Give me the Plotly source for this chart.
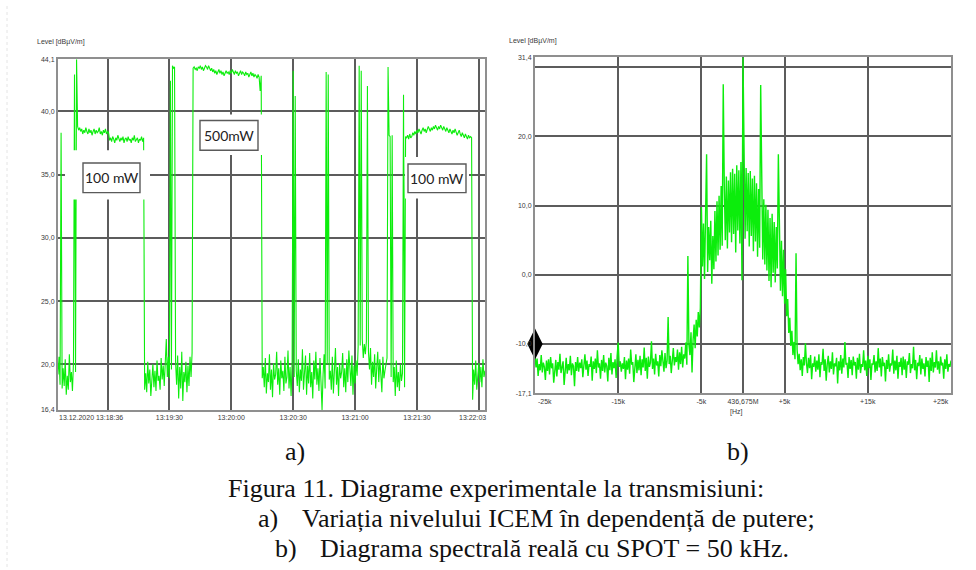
import pandas as pd
import plotly.graph_objects as go

W, H = 976, 570

# ---------------- (a) field level vs. time, one sample every 0.5 s ----------------
start_time = "2020-12-13 13:18:36"
end_time = "2020-12-13 13:22:03"

lvl_start = [19.2, 20.6, 18.4, 38.3, 18.1, 19.7, 18.3, 20.4, 17.6, 19.1, 18.0, 20.8,
             18.6, 19.4, 17.9, 20.1, 42.9, 19.4, 44.1, 38.8]
lvl_100mw_a = [38.5, 38.7, 38.4, 38.6, 38.2, 38.5, 38.3, 38.7, 38.4, 38.2, 38.6, 38.3,
               38.5, 38.1, 38.4, 38.6, 38.2, 38.5, 38.3, 38.4, 38.7, 38.2, 38.4, 38.1,
               38.5, 38.3, 38.6, 38.2, 38.4, 38.3,
               37.7, 37.9, 37.6, 38.0, 37.8, 37.5, 37.9, 37.7, 38.1, 37.8, 37.6, 37.9,
               37.7, 38.0, 37.5, 37.8, 37.9, 37.6, 38.0, 37.7, 37.8, 37.5, 37.9, 37.7,
               38.1, 37.6, 37.8, 37.9, 37.5, 37.8, 37.7, 38.0, 37.6, 37.9]
lvl_gap_1 = [18.0,
             19.3, 17.8, 20.2, 18.5, 19.6, 17.5, 18.9, 20.0, 18.2, 19.5, 17.9, 20.3,
             18.7, 19.1, 18.0, 20.5, 18.8, 19.9, 18.3, 20.4, 22.0, 19.0, 20.6, 18.9,
             42.4, 19.6, 43.6, 43.4, 43.5, 20.2,
             18.4, 20.7, 17.3, 19.8, 18.1, 21.0, 17.1, 19.4, 18.6, 20.2, 17.8, 19.9,
             18.3, 20.6, 19.0, 20.9,
             43.4]
lvl_500mw = [43.5, 43.3, 43.4, 43.2, 43.5, 43.4, 43.6, 43.3, 43.5, 43.2, 43.4, 43.6,
             43.5, 43.3, 43.6, 43.4, 43.2, 43.4, 43.1, 43.3, 43.0, 43.2, 42.9, 43.1,
             43.3, 43.0, 43.2, 42.9, 43.1, 42.8, 43.0, 43.2, 43.0, 43.1, 42.9, 43.2,
             43.0, 43.3, 43.1, 42.9, 43.2, 43.0, 43.1, 42.8, 43.0, 43.2, 42.9, 43.1,
             43.0, 42.8, 43.1, 42.9, 43.0, 42.7, 42.9, 43.1, 42.8, 43.0, 42.7, 42.9,
             42.8, 42.6, 42.9, 42.7]
lvl_gap_2 = [41.6, 42.8, 18.9,
             19.8, 18.2, 20.5, 17.7, 19.3, 18.6, 20.8, 18.0, 19.6, 17.4, 20.1, 18.8,
             19.2, 21.0, 18.4, 19.7, 17.6, 20.3, 18.9, 19.5, 17.9, 20.6, 18.5, 19.0,
             21.1, 18.1, 19.8, 17.5, 20.2,
             43.2, 19.0, 41.2, 19.5,
             18.3, 20.4, 17.8, 19.6, 18.7, 21.2, 18.0, 19.3, 20.7, 17.6, 19.9, 18.5,
             20.9, 18.2, 19.4, 17.3, 20.3, 18.8, 21.0, 18.4, 19.7, 17.9, 20.5, 18.6,
             16.4, 19.2, 20.8, 18.1,
             43.1, 20.0, 42.9, 18.8,
             19.5, 18.0, 20.6, 17.7, 19.2, 21.3, 18.4, 19.8, 17.5, 20.1, 18.9, 19.4,
             20.9, 18.2, 19.7, 17.8, 20.4, 18.6, 21.1, 19.0, 18.3, 20.7, 17.6, 19.9,
             18.5, 20.3, 19.1, 21.4,
             43.6, 21.5, 43.2, 22.0, 20.5, 21.6, 20.8, 21.8, 42.0, 21.0,
             19.6, 21.3, 18.4, 20.2, 19.0, 20.8, 18.1, 19.7, 21.0, 18.6, 20.4, 19.2,
             17.8, 20.6, 18.9, 19.5, 20.1,
             20.5, 43.5, 38.1, 38.0, 19.0, 38.1, 18.6,
             19.8, 17.5, 20.3, 18.2, 19.4, 17.9, 20.0, 18.7, 19.3,
             41.3, 18.2, 38.0]
lvl_100mw_b = [37.9, 38.1, 37.8, 38.2, 37.9, 38.0, 38.3, 38.1, 38.4, 38.2, 38.5, 38.3,
               38.6, 38.4, 38.2, 38.5, 38.7, 38.4, 38.6, 38.3, 38.5, 38.8, 38.6, 38.4,
               38.7, 38.5, 38.8, 38.6, 38.9, 38.7, 38.5, 38.8, 38.6, 38.9, 38.7, 38.5,
               38.8, 38.6, 38.4, 38.7, 38.5, 38.3, 38.6, 38.4, 38.2, 38.5, 38.3, 38.6,
               38.4, 38.1, 38.3, 38.5, 38.2, 38.0, 38.3, 38.1, 37.9, 38.2, 38.0, 37.8,
               38.1, 37.9, 38.0]
lvl_end = [37.9, 17.2,
           19.6, 18.4, 20.3, 18.0, 19.2, 20.1, 18.6, 19.8, 18.2, 20.4, 19.0, 19.5]

level_a = lvl_start + lvl_100mw_a + lvl_gap_1 + lvl_500mw + lvl_gap_2 + lvl_100mw_b + lvl_end
assert len(level_a) == 415, len(level_a)
time_a = pd.date_range(start_time, periods=len(level_a), freq="500ms")

time_ticks = ["2020-12-13 13:19:00", "2020-12-13 13:19:30", "2020-12-13 13:20:00",
              "2020-12-13 13:20:30", "2020-12-13 13:21:00", "2020-12-13 13:21:30",
              "2020-12-13 13:22:00"]
time_labels = ["", "13:19:30", "13:20:00", "13:20:30", "13:21:00", "13:21:30", ""]
level_ticks_a = [16.4, 20, 25, 30, 35, 40, 44.1]
level_labels_a = ["16,4", "20,0", "25,0", "30,0", "35,0", "40,0", "44,1"]

# ---------------- (b) spectrum around 436,675 MHz, 0.125 kHz bins ----------------
floor_lo = [-11.8, -13.4, -12.1, -14.6, -12.9, -13.8, -11.6, -14.1, -12.7, -13.3, -15.2, -12.4,
            -13.9, -12.2, -14.4, -11.9, -13.5,
            -12.8, -15.6, -13.1, -12.3, -14.7, -12.6, -13.7, -11.4, -14.2, -13.0, -12.5, -15.9,
            -13.6, -12.0, -14.3, -12.9, -13.8,
            -11.7, -14.5, -12.8, -13.2, -16.1, -12.6, -13.9, -11.9, -14.0, -12.7, -13.5, -12.2,
            -14.8, -13.1, -11.5, -13.7, -12.4,
            -14.6, -12.9, -13.3, -11.8, -15.3, -12.5, -13.6, -12.1, -14.2, -10.9, -13.4, -12.8,
            -15.0, -12.3, -13.9, -11.6, -14.1,
            -12.7, -13.2, -15.4, -12.0, -13.8, -11.3, -14.4, -12.6, -13.5, -12.2, -14.9, -11.7,
            -9.8, -13.3, -12.5, -14.0, -12.8,
            -13.6, -11.9, -15.1, -12.4, -13.7, -12.1, -14.3, -10.8, -13.0, -12.6, -15.5, -12.9,
            -11.5, -14.2, -12.3, -13.8, -11.7,
            -14.5, -12.2, -13.4, -10.5, -13.9, -12.0, -15.0, -11.8, -13.3, -12.7, -9.6, -13.6,
            -12.1, -14.4, -11.4, -13.1, -12.5,
            -14.7, -11.6, -13.2, -10.9, -12.8, -14.0, -11.3, -13.5, -12.4, -6.1, -12.9, -11.7,
            -14.2, -12.0, -10.6, -13.1, -11.9]
skirt_lo = [-12.6, -10.8, -13.7, -11.2, -12.9, -10.4, -13.4, -11.5, -12.1, -9.8, -13.0, 2.7,
            -10.1, -11.6, -8.3, -14.1, -9.4, -7.2, -10.6, -6.5, -8.9, -5.4, -7.6, -4.8]
carrier_band = [9.8, 1.2, 7.4, -0.6, 8.6, 17.4, 0.4, 6.9, 2.1, 7.8, -1.3, 5.6,
                0.8, 9.2, 1.9, 10.6, 2.8, 11.4, 3.6, 12.8, 4.2,
                27.5,
                13.1, 5.0, 14.2, 3.8, 13.6, 6.1, 14.8, 4.7, 15.3, 5.9, 14.6, 3.2,
                15.8, 6.4, 15.1, 4.5, 16.3, -0.8,
                31.4,
                15.9, 5.2, 15.4, 6.3, 14.7, 4.1, 15.0, 5.6, 13.9, 3.4, 14.3, 4.8,
                13.2, 2.6, 12.4, 3.9,
                27.4,
                11.8, 2.2, 10.9, 1.5, 10.1, 0.6, 9.4, -0.9, 8.2, -1.8, 8.8, 0.3,
                7.6, -1.1, 6.9, 0.9,
                17.4,
                5.8, -2.3, 4.9, -3.1, 3.6]
skirt_hi = [-4.2, 0.8, -6.0, -3.5, -8.4, -6.2, -10.3, -8.1, -11.6, -9.7, -12.2, 3.1, -10.8]
floor_hi = [-12.9, -11.4, -13.8, -12.2, -14.6, -11.9, -13.1, -9.9, -12.7, -14.2, -12.0, -13.5,
            -11.6, -15.1, -12.8, -13.3, -11.8,
            -14.0, -12.4, -13.7, -11.5, -14.8, -12.6, -13.0, -10.7, -13.9, -12.2, -15.3, -12.9,
            -11.7, -14.1, -12.5, -13.6, -11.2,
            -14.4, -12.8, -13.2, -12.0, -15.7, -12.5, -13.8, -11.6, -14.3, -12.1, -13.4, -9.7,
            -13.0, -12.7, -14.9, -11.9, -13.6,
            -12.3, -14.5, -11.8, -13.1, -12.6, -15.0, -12.0, -13.7, -11.4, -14.2, -12.9, -13.3,
            -10.9, -13.8, -12.4, -14.6, -11.7,
            -13.5, -12.2, -15.2, -12.8, -13.0, -11.6, -14.1, -12.5, -13.9, -10.6, -13.4, -12.1,
            -14.7, -11.9, -13.2, -12.7, -15.4,
            -12.3, -13.6, -11.5, -14.0, -12.8, -13.1, -10.8, -14.3, -12.4, -13.8, -11.7, -15.0,
            -12.6, -13.3, -12.0, -14.5, -11.8,
            -13.7, -12.2, -14.9, -12.5, -13.0, -11.3, -14.2, -12.9, -13.5, -10.4, -13.8, -12.3,
            -15.1, -12.7, -13.2, -11.6, -14.4,
            -12.1, -13.6, -12.8, -14.7, -11.9, -13.3, -12.4, -15.5, -12.0, -13.9, -11.2, -14.1,
            -12.6, -13.4, -10.9, -13.7, -12.5,
            -14.3, -11.8, -13.1, -12.7, -15.0, -12.2, -13.6, -11.5, -14.0, -12.9, -13.3, -12.4]

level_b = floor_lo + skirt_lo + carrier_band + skirt_hi + floor_hi
assert len(level_b) == 401, len(level_b)
bin_khz = 0.125
offset_khz = [-25 + bin_khz * k for k in range(len(level_b))]

freq_ticks = [-15, -5, 0, 5, 15]
freq_labels = ["-15k", "-5k", "436,675M", "+5k", "+15k"]
level_ticks_b = [-17.1, -10, 0, 10, 20, 30, 31.4]
level_labels_b = ["-17,1", "-10,0", "0,0", "10,0", "20,0", "", "31,4"]
ref_level_b = -10.0

# ---------------- styling ----------------
GREEN = "#0ced0c"
GRID = "#5c5c5c"
FRAME = "#8f8f8f"
TICK_FONT = dict(family="Liberation Sans, Arial, sans-serif", size=7, color="#3a3a3a")


def px(x):
    return x / W


def py(y):
    return 1 - y / H


fig = go.Figure()
fig.add_trace(go.Scatter(x=time_a, y=level_a, mode="lines",
                         line=dict(color=GREEN, width=1.1), xaxis="x", yaxis="y",
                         hoverinfo="skip", showlegend=False))
fig.add_trace(go.Scatter(x=offset_khz, y=level_b, mode="lines",
                         line=dict(color=GREEN, width=1.4), xaxis="x2", yaxis="y2",
                         hoverinfo="skip", showlegend=False))
fig.add_trace(go.Scatter(x=[-25], y=[ref_level_b], mode="markers",
                         marker=dict(symbol="diamond-tall", size=22, color="black"),
                         xaxis="x2", yaxis="y2", cliponaxis=False,
                         hoverinfo="skip", showlegend=False))

axis_common = dict(showgrid=True, gridcolor=GRID, gridwidth=1.6, zeroline=False,
                   showline=True, linecolor=FRAME, linewidth=2, mirror=True,
                   ticks="", tickfont=TICK_FONT, fixedrange=True)

fig.update_layout(
    width=W, height=H, margin=dict(l=0, r=0, t=0, b=0),
    paper_bgcolor="white", plot_bgcolor="white",
    xaxis=dict(axis_common, type="date", domain=[px(58), px(485)],
               range=[start_time, end_time], tickmode="array",
               tickvals=time_ticks, ticktext=time_labels, anchor="y"),
    yaxis=dict(axis_common, domain=[py(411), py(56)], range=[16.4, 44.1],
               tickmode="array", tickvals=level_ticks_a, ticktext=level_labels_a,
               anchor="x"),
    xaxis2=dict(axis_common, domain=[px(535), px(951)], range=[-25, 25],
                tickmode="array", tickvals=freq_ticks, ticktext=freq_labels,
                anchor="y2"),
    yaxis2=dict(axis_common, domain=[py(394), py(54)], range=[-17.1, 31.4],
                tickmode="array", tickvals=level_ticks_b, ticktext=level_labels_b,
                anchor="x2"),
)

shapes = []
# power labels sit in white boxes that mask the grid and trace behind them
boxes = [
    ("100 mW", (65, 148, 150, 198), (83, 161, 140, 191)),
    ("500mW", (196, 112, 262, 153), (200, 118, 258, 148)),
    ("100 mW", (405, 155, 469, 197), (408, 162, 466, 191)),
]
annotations = []
for text, (mx0, my0, mx1, my1), (bx0, by0, bx1, by1) in boxes:
    shapes.append(dict(type="rect", xref="paper", yref="paper", layer="above",
                       x0=px(mx0), x1=px(mx1), y0=py(my1), y1=py(my0),
                       fillcolor="white", line=dict(width=0)))
    shapes.append(dict(type="rect", xref="paper", yref="paper", layer="above",
                       x0=px(bx0), x1=px(bx1), y0=py(by1), y1=py(by0),
                       fillcolor="white", line=dict(color="#5a5a5a", width=1.4)))
    annotations.append(dict(text=text, xref="paper", yref="paper", showarrow=False,
                            x=px((bx0 + bx1) / 2), y=py((by0 + by1) / 2),
                            xanchor="center", yanchor="middle",
                            font=dict(family="Lato, Open Sans, sans-serif", size=14,
                                      color="#222222")))

# faint page edge on the left
shapes.append(dict(type="line", xref="paper", yref="paper", x0=px(7), x1=px(7),
                   y0=0, y1=1, line=dict(color="#e4e4e4", width=1, dash="dot")))


def note(text, x, y, anchor="center", size=7, family="Liberation Sans, Arial, sans-serif",
         color="#3a3a3a"):
    annotations.append(dict(text=text, xref="paper", yref="paper", showarrow=False,
                            x=px(x), y=py(y), xanchor=anchor, yanchor="middle",
                            font=dict(family=family, size=size, color=color)))


note("Level [dBµV/m]", 35, 38, "left")
note("Level [dBµV/m]", 507, 37, "left")
note("13.12.2020 13:18:36", 57, 419, "left")
note("13:22:03", 488, 419, "right")
note("-25k", 536, 402, "left")
note("+25k", 951, 402, "right")
note("[Hz]", 736, 413)

SERIF = "Liberation Serif, Times New Roman, serif"
CAP = 26
note("a)", 295, 453, "center", CAP, SERIF, "#111111")
note("b)", 738, 453, "center", CAP, SERIF, "#111111")
note("Figura 11. Diagrame experimentale la transmisiuni:", 496, 491, "center", CAP, SERIF, "#111111")
note("a)", 256, 521, "left", CAP, SERIF, "#111111")
note("Variația nivelului ICEM în dependență de putere;", 300, 521, "left", CAP, SERIF, "#111111")
note("b)", 273, 551, "left", CAP, SERIF, "#111111")
note("Diagrama spectrală reală cu SPOT = 50 kHz.", 318, 551, "left", CAP, SERIF, "#111111")

fig.update_layout(shapes=shapes, annotations=annotations)
fig.write_html("out.html")
